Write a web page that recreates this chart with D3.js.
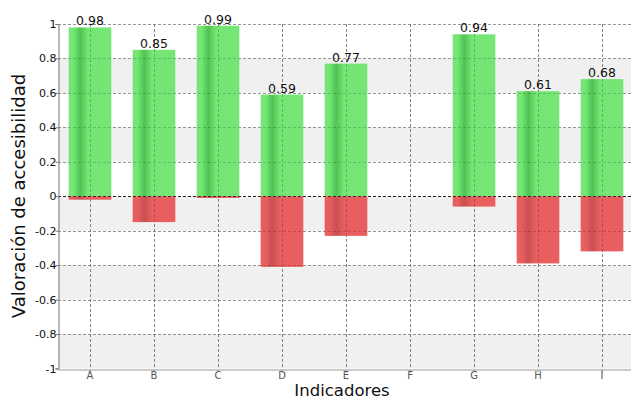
<!DOCTYPE html>
<html><head><meta charset="utf-8">
<script src="https://cdn.jsdelivr.net/npm/d3@7"></script>
<style>body{margin:0;background:#fff;} svg{display:block;font-family:"DejaVu Sans",sans-serif;}</style>
</head><body>
<svg id="c" width="631" height="399"></svg>
<script>
const categories = ["A","B","C","D","E","F","G","H","I"];
const positiveValues = [0.98,0.85,0.99,0.59,0.77,0,0.94,0.61,0.68];
const negativeValues = [-0.02,-0.15,-0.01,-0.41,-0.23,0,-0.06,-0.39,-0.32];
const yTicks = [-1,-0.8,-0.6,-0.4,-0.2,0,0.2,0.4,0.6,0.8,1];

const svg = d3.select("#c");
const x = d3.scaleBand().domain(categories).range([58,634]).paddingInner(1/3).paddingOuter(1/6);
const y = d3.scaleLinear().domain([-1,1]).range([368.5,24]);
const L = 58, R = 634;

const defs = svg.append("defs");
function grad(id, light, dark){
  const g = defs.append("linearGradient").attr("id",id).attr("x1","0").attr("x2","1").attr("y1","0").attr("y2","0");
  g.append("stop").attr("offset","0").attr("stop-color",light);
  g.append("stop").attr("offset","0.12").attr("stop-color",light);
  g.append("stop").attr("offset","0.27").attr("stop-color",dark);
  g.append("stop").attr("offset","0.45").attr("stop-color",light);
  g.append("stop").attr("offset","1").attr("stop-color",light);
}
grad("gg","#6ee46e","#45c045");
grad("gr","#e85656","#c44848");

// background bands
for (let i=0;i<yTicks.length-1;i++){
  const a = yTicks[i], b = yTicks[i+1];
  if (i%2===0) svg.append("rect").attr("x",L).attr("width",R-L).attr("y",y(b)).attr("height",y(a)-y(b)).attr("fill","#f0f0f0");
}
// horizontal grid
svg.append("g").selectAll("line").data(yTicks.filter(d=>d!==-1)).join("line")
  .attr("x1",L).attr("x2",R).attr("y1",d=>Math.round(y(d))+0.5).attr("y2",d=>Math.round(y(d))+0.5)
  .attr("stroke",d=>d===0?"#555":"#b0b0b0").attr("stroke-dasharray","3,2").attr("stroke-width",1);
// vertical grid
svg.append("g").selectAll("line").data(categories).join("line")
  .attr("x1",d=>Math.round(x(d)+x.bandwidth()/2)+0.5).attr("x2",d=>Math.round(x(d)+x.bandwidth()/2)+0.5)
  .attr("y1",y(1)).attr("y2",y(-1))
  .attr("stroke","#a0a0a0").attr("stroke-dasharray","3,2");

// bars
svg.append("g").selectAll("rect").data(categories).join("rect")
  .attr("x",d=>x(d)).attr("width",x.bandwidth())
  .attr("y",(d,i)=>y(positiveValues[i])).attr("height",(d,i)=>y(0)-y(positiveValues[i]))
  .attr("fill","url(#gg)").attr("opacity",0.95);
svg.append("g").selectAll("rect").data(categories).join("rect")
  .attr("x",d=>x(d)).attr("width",x.bandwidth())
  .attr("y",y(0)).attr("height",(d,i)=>y(negativeValues[i])-y(0))
  .attr("fill","url(#gr)").attr("opacity",0.95);
// grid visible over bars
svg.append("g").selectAll("line").data(categories).join("line")
  .attr("x1",d=>Math.round(x(d)+x.bandwidth()/2)+0.5).attr("x2",d=>Math.round(x(d)+x.bandwidth()/2)+0.5)
  .attr("y1",y(1)).attr("y2",y(-1))
  .attr("stroke","#000").attr("stroke-opacity",0.18).attr("stroke-dasharray","3,2");
svg.append("g").selectAll("line").data(yTicks.filter(d=>d!==-1)).join("line")
  .attr("x1",L).attr("x2",R).attr("y1",d=>Math.round(y(d))+0.5).attr("y2",d=>Math.round(y(d))+0.5)
  .attr("stroke","#000").attr("stroke-opacity",d=>d===0?0.6:0.15).attr("stroke-dasharray","3,2");

// value labels
svg.append("g").selectAll("text").data(categories.filter((d,i)=>positiveValues[i]>0)).join("text")
  .attr("x",d=>x(d)+x.bandwidth()/2)
  .attr("y",d=>y(positiveValues[categories.indexOf(d)])-2)
  .attr("text-anchor","middle").attr("font-size",12.5).attr("fill","#111")
  .text(d=>positiveValues[categories.indexOf(d)]);

// axes
const yAxis = d3.axisLeft(y).tickValues(yTicks).tickSize(3).tickFormat(d=>d);
const gy = svg.append("g").attr("transform",`translate(${L+0.5},0)`).call(yAxis);
gy.select(".domain").attr("stroke","#777");
gy.selectAll(".tick line").attr("stroke","#777");
gy.selectAll("text").attr("font-size",11).attr("fill","#111").attr("font-family","DejaVu Sans").attr("x",-2);

const xAxis = d3.axisBottom(x).tickSize(3).tickSizeOuter(0);
const gx = svg.append("g").attr("transform",`translate(0,${Math.round(y(-1))+0.5})`).call(xAxis);
gx.select(".domain").attr("stroke","#999");
gx.selectAll(".tick line").attr("stroke","#999");
gx.selectAll("text").attr("font-size",10).attr("fill","#555").attr("font-family","DejaVu Sans").attr("y",2).attr("dy","0.71em");

svg.append("text").attr("transform","translate(25,196) rotate(-90)").attr("text-anchor","middle")
  .attr("font-size",18).attr("fill","#111").text("Valoración de accesibilidad");
svg.append("text").attr("x",342).attr("y",395.5).attr("text-anchor","middle")
  .attr("font-size",16.5).attr("fill","#111").text("Indicadores");
</script>
</body></html>
